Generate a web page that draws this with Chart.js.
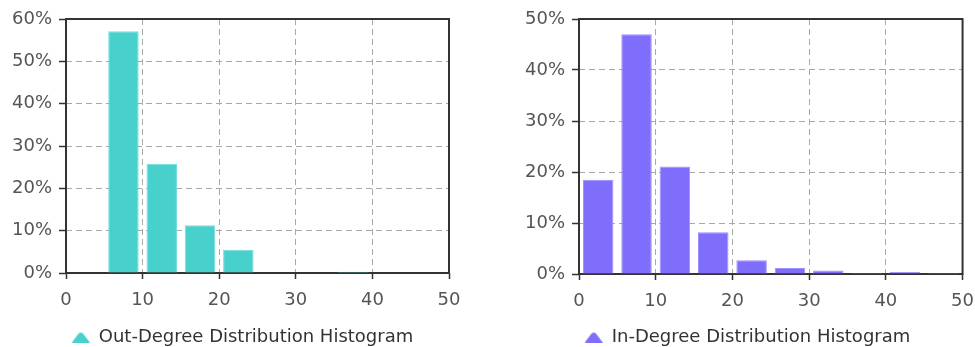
<!DOCTYPE html>
<html>
<head>
<meta charset="utf-8">
<script src="https://cdn.jsdelivr.net/npm/chart.js@4"></script>
<style>
  html, body { margin: 0; padding: 0; background: #fff; overflow: hidden; width: 975px; height: 347px; }
  canvas { position: absolute; top: 0; }
  #outDeg { left: 0; }
  #inDeg { left: 487px; }
</style>
</head>
<body>
<canvas id="outDeg" width="487" height="347"></canvas>
<canvas id="inDeg" width="498" height="347"></canvas>
<script>
// Degree bins: lower edge of each bin, all bins 5 wide
const binStarts = [0, 5, 10, 15, 20, 25, 30, 35, 40, 45];
const binWidth = 5;
const xTicks = [0, 10, 20, 30, 40, 50];

// Share of nodes falling in each bin (percent)
const outDegreePct = [0, 57.1, 25.8, 11.3, 5.5, 0, 0, 0.3, 0, 0];
const inDegreePct = [18.5, 47.0, 21.1, 8.2, 2.7, 1.2, 0.7, 0.2, 0.4, 0.2];

const outLabel = 'Out-Degree Distribution Histogram';
const inLabel = 'In-Degree Distribution Histogram';
const outYMax = 60;
const inYMax = 50;

Chart.defaults.font.family = "'DejaVu Sans', sans-serif";
Chart.defaults.font.size = 18;

// Small mound-shaped legend marker
function makeMarker(color) {
  const c = document.createElement('canvas');
  c.width = 18; c.height = 11;
  const g = c.getContext('2d');
  g.fillStyle = color;
  g.beginPath();
  g.moveTo(0, 11);
  g.lineTo(6, 3);
  g.quadraticCurveTo(9, -1, 12, 3);
  g.lineTo(18, 11);
  g.closePath();
  g.fill();
  return c;
}

// Dark frame around the plot area, drawn under the bars
const framePlugin = {
  id: 'frame',
  beforeDatasetsDraw(chart) {
    const { ctx, chartArea: a } = chart;
    ctx.save();
    ctx.strokeStyle = '#333';
    ctx.lineWidth = 2;
    ctx.strokeRect(a.left, a.top, a.right - a.left, a.bottom - a.top);
    ctx.restore();
  }
};

// Re-centre the bottom legend on a chosen x position
const legendCenterPlugin = {
  id: 'legendCenter',
  afterLayout(chart, args, opts) {
    const lg = chart.legend;
    if (!lg || opts.centerX == null) return;
    const dx = opts.centerX - (lg.left + lg.right) / 2;
    lg.left += dx;
    lg.right += dx;
  }
};

function buildHistogram(canvasId, label, values, yMax, fill, edge, pad, yAxisWidth, xAxisHeight, legendX) {
  const gridStyle = {
    offset: false,
    color: '#a8a8a8',
    lineWidth: 1,
    tickColor: '#333',
    tickWidth: 1.5,
    tickBorderDash: []
  };
  return new Chart(document.getElementById(canvasId), {
    type: 'bar',
    data: {
      datasets: [{
        label: label,
        data: binStarts.map((s, i) => ({ x: s + binWidth / 2, y: values[i] > 0 ? values[i] : null })),
        backgroundColor: fill,
        borderColor: edge,
        borderWidth: 1,
        borderSkipped: 'bottom',
        barPercentage: 0.795,
        categoryPercentage: 1.0
      }]
    },
    options: {
      responsive: false,
      animation: false,
      layout: { padding: pad },
      scales: {
        x: {
          type: 'linear',
          min: 0,
          max: 50,
          offset: false,
          afterBuildTicks: s => { s.ticks = xTicks.map(v => ({ value: v })); },
          afterFit: s => { s.height = xAxisHeight; },
          grid: Object.assign({ tickLength: 6 }, gridStyle),
          border: { display: false, dash: [6, 4] },
          ticks: { color: '#555', padding: 11, maxRotation: 0 }
        },
        y: {
          min: 0,
          max: yMax,
          afterFit: s => { s.width = yAxisWidth; },
          grid: Object.assign({ tickLength: 7 }, gridStyle),
          border: { display: false, dash: [6, 4] },
          ticks: { stepSize: 10, color: '#555', padding: 7, callback: v => v + '%' }
        }
      },
      plugins: {
        legend: {
          position: 'bottom',
          labels: {
            usePointStyle: true,
            pointStyle: makeMarker(fill),
            color: '#333',
            padding: 10,
            font: { size: 18 }
          }
        },
        legendCenter: { centerX: legendX },
        tooltip: { enabled: false }
      }
    },
    plugins: [framePlugin, legendCenterPlugin]
  });
}

buildHistogram('outDeg', outLabel, outDegreePct, outYMax, '#48D1CC', '#74DDD9',
  { left: 0, right: 38, top: 19, bottom: -9 }, 66, 45, 242.5);
buildHistogram('inDeg', inLabel, inDegreePct, inYMax, '#7F6EFC', '#9C8FFF',
  { left: 0, right: 13, top: 19, bottom: -9 }, 92, 44, 260.5);
</script>
</body>
</html>
